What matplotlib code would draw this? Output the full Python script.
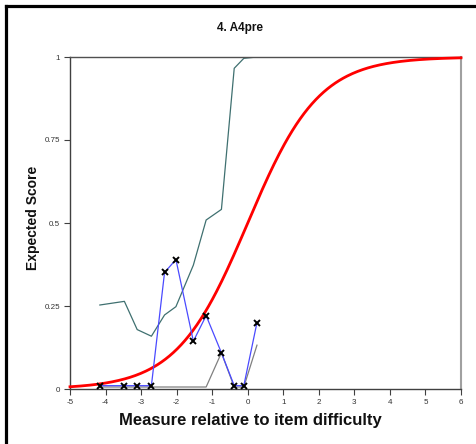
import numpy as np
import matplotlib
matplotlib.use("Agg")
import matplotlib.pyplot as plt
from matplotlib.lines import Line2D

plt.rcParams['font.family'] = ['Liberation Sans', 'DejaVu Sans']

# Data
measure = [-4.16, -3.47, -3.11, -2.71, -2.34, -2.02, -1.53, -1.17, -0.74, -0.38, -0.11, 0.26]
observed = [0.01, 0.01, 0.01, 0.01, 0.351, 0.39, 0.144, 0.221, 0.109, 0.01, 0.01, 0.20]
upper_band = [0.253, 0.264, 0.179, 0.159, 0.223, 0.248, 0.373, 0.509, 0.541, 0.966, 0.996, 1.0]
lower_band = [0.006, 0.006, 0.006, 0.006, 0.006, 0.006, 0.006, 0.006, 0.109, 0.006, 0.006, 0.132]
x_ticks = [-5, -4, -3, -2, -1, 0, 1, 2, 3, 4, 5, 6]
y_ticks = [0, 0.25, 0.5, 0.75, 1]
y_ticklabels = ["0", "0.25", "0.5", "0.75", "1"]

xs = np.linspace(-5, 6, 300)
expected = 1.0 / (1.0 + np.exp(-xs))

fig = plt.figure(figsize=(4.76, 4.44), dpi=100)
ax = fig.add_axes([70/476, 1-389/444, (461-70)/476, (389-57)/444])

ax.plot(measure, lower_band, color='#808080', lw=0.9, zorder=2)
ax.plot(measure, upper_band, color='#3f7070', lw=0.9, zorder=2)
ax.plot(xs, expected, color='#ff0000', lw=2.0, zorder=3, clip_on=False)
ax.plot(measure, observed, color='#4a4aff', lw=0.9, zorder=4,
        marker='x', markersize=4.2, markeredgecolor='black', markeredgewidth=1.4)

ax.set_xlim(-5, 6)
ax.set_ylim(0, 1)
ax.set_xticks(x_ticks)
ax.set_xticklabels([str(t) for t in x_ticks])
ax.set_yticks(y_ticks)
ax.set_yticklabels(y_ticklabels)
ax.tick_params(axis='both', direction='out', length=4, width=0.8, color='#404040',
               labelsize=5.8, labelcolor='#333333', pad=3)

for s in ['left', 'bottom']:
    ax.spines[s].set_color('#404040')
    ax.spines[s].set_linewidth(1.0)
ax.spines['top'].set_color('#505050')
ax.spines['top'].set_linewidth(1.0)
ax.spines['right'].set_color('#a0a0a0')
ax.spines['right'].set_linewidth(1.5)

fig.text(240/476, 1-28/444, "4. A4pre", ha='center', va='center',
         fontsize=8.5, fontweight='bold', color='#111111')
fig.text(250/476, 1-420/444, "Measure relative to item difficulty", ha='center', va='center',
         fontsize=12, fontweight='bold', color='#111111')
fig.text(33/476, 1-218/444, "Expected Score", ha='center', va='center', rotation=90,
         fontsize=10, fontweight='bold', color='#111111')

# figure frame (top and left edges visible)
fig.add_artist(Line2D([6/476, 6/476], [-0.05, 1-6/444], transform=fig.transFigure,
                      color='black', lw=2.3))
fig.add_artist(Line2D([6/476, 1.05], [1-6/444, 1-6/444], transform=fig.transFigure,
                      color='black', lw=2.3))

fig.savefig("out.png", dpi=100)
